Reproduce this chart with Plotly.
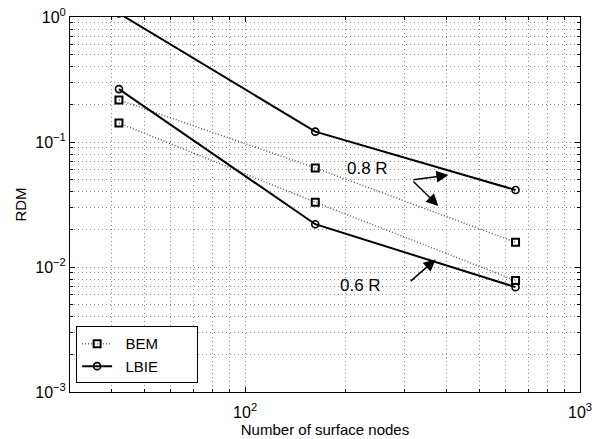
import numpy as np
import plotly.graph_objects as go

# Surface node counts (geodesic sphere meshes)
nodes = [42, 162, 642]

# RDM values for each method at the two sampling radii
bem_08 = [0.217, 0.062, 0.0158]
bem_06 = [0.142, 0.033, 0.0078]
lbie_08 = [1.07, 0.121, 0.0413]
lbie_06 = [0.265, 0.022, 0.0069]

x_tickvals = [100, 1000]
x_ticktext = ["10<sup>2</sup>", "10<sup>3</sup>"]
y_tickvals = [1e-3, 1e-2, 1e-1, 1e0]
y_ticktext = ["10<sup>\u22123</sup>", "10<sup>\u22122</sup>", "10<sup>\u22121</sup>", "10<sup>0</sup>"]

x_minor = [m * 10 ** e for e in (1, 2) for m in range(2, 10) if 30 <= m * 10 ** e <= 1000]
y_minor = [m * 10.0 ** e for e in (-3, -2, -1) for m in range(2, 10)]

FONT = "Liberation Sans, Arial, sans-serif"
GRID = dict(showgrid=True, gridcolor="#8c8c8c", gridwidth=1, griddash="1px,3px")
LEAD = "\u00a0" * 2   # gap between legend symbol and label
PAD = "\u00a0" * 8    # widens the legend box

fig = go.Figure()

bem_style = dict(mode="lines+markers",
                 line=dict(color="#5a5a5a", width=1.5, dash="1px,2px"),
                 marker=dict(symbol="square-open", size=7, color="black",
                             line=dict(width=2, color="black")))
lbie_style = dict(mode="lines+markers",
                  line=dict(color="black", width=2),
                  marker=dict(symbol="circle-open", size=7, color="black",
                              line=dict(width=1.6, color="black")))

fig.add_trace(go.Scatter(x=nodes, y=bem_08, name=LEAD + "BEM" + PAD, legendgroup="bem", **bem_style))
fig.add_trace(go.Scatter(x=nodes, y=bem_06, name="BEM", legendgroup="bem",
                         showlegend=False, **bem_style))
fig.add_trace(go.Scatter(x=nodes, y=lbie_08, name=LEAD + "LBIE" + PAD, legendgroup="lbie", **lbie_style))
fig.add_trace(go.Scatter(x=nodes, y=lbie_06, name="LBIE", legendgroup="lbie",
                         showlegend=False, **lbie_style))

axis_common = dict(
    type="log", automargin=False,
    showline=True, linecolor="black", linewidth=1, mirror="allticks",
    ticks="inside", ticklen=5, tickwidth=1, tickcolor="black",
    zeroline=False,
    tickfont=dict(family=FONT, size=16, color="black"),
    **GRID,
)
minor_common = dict(ticks="inside", ticklen=3, tickcolor="black", **GRID)

fig.update_xaxes(
    range=[np.log10(30), 3],
    tickmode="array", tickvals=x_tickvals, ticktext=x_ticktext,
    minor=dict(tickmode="array", tickvals=x_minor, **minor_common),
    ticklabelstandoff=6,
    title=dict(text="Number of surface nodes", font=dict(family=FONT, size=15, color="black"),
               standoff=4),
    **axis_common,
)
fig.update_yaxes(
    range=[-3, 0],
    tickmode="array", tickvals=y_tickvals, ticktext=y_ticktext,
    minor=dict(tickmode="array", tickvals=y_minor, **minor_common),
    title=dict(text="RDM", font=dict(family=FONT, size=15, color="black"), standoff=4),
    **axis_common,
)

# Radius labels with pointer arrows
ann_font = dict(family=FONT, size=17, color="black")
fig.add_annotation(x=2.366, y=-1.212, text="0.8 R", showarrow=False, font=ann_font)
fig.add_annotation(x=2.345, y=-2.148, text="0.6 R", showarrow=False, font=ann_font)
arrows = [
    ((2.498, -1.304), (2.607, -1.264)),
    ((2.498, -1.304), (2.577, -1.512)),
    ((2.490, -2.123), (2.569, -1.939)),
]
for (tx, ty), (hx, hy) in arrows:
    fig.add_annotation(x=hx, y=hy, ax=tx, ay=ty, xref="x", yref="y",
                       axref="x", ayref="y", text="", showarrow=True,
                       arrowhead=2, arrowsize=1.6, arrowwidth=1.5, arrowcolor="black")

fig.update_layout(
    width=601, height=439,
    margin=dict(l=70, r=21, t=17, b=47),
    plot_bgcolor="white", paper_bgcolor="white",
    font=dict(family=FONT, color="black"),
    showlegend=True,
    legend=dict(x=0.012, y=0.175, xanchor="left", yanchor="top",
                bgcolor="white", bordercolor="black", borderwidth=1,
                font=dict(family=FONT, size=15, color="black"),
                tracegroupgap=0, itemwidth=30),
)

fig.write_html("out.html")
